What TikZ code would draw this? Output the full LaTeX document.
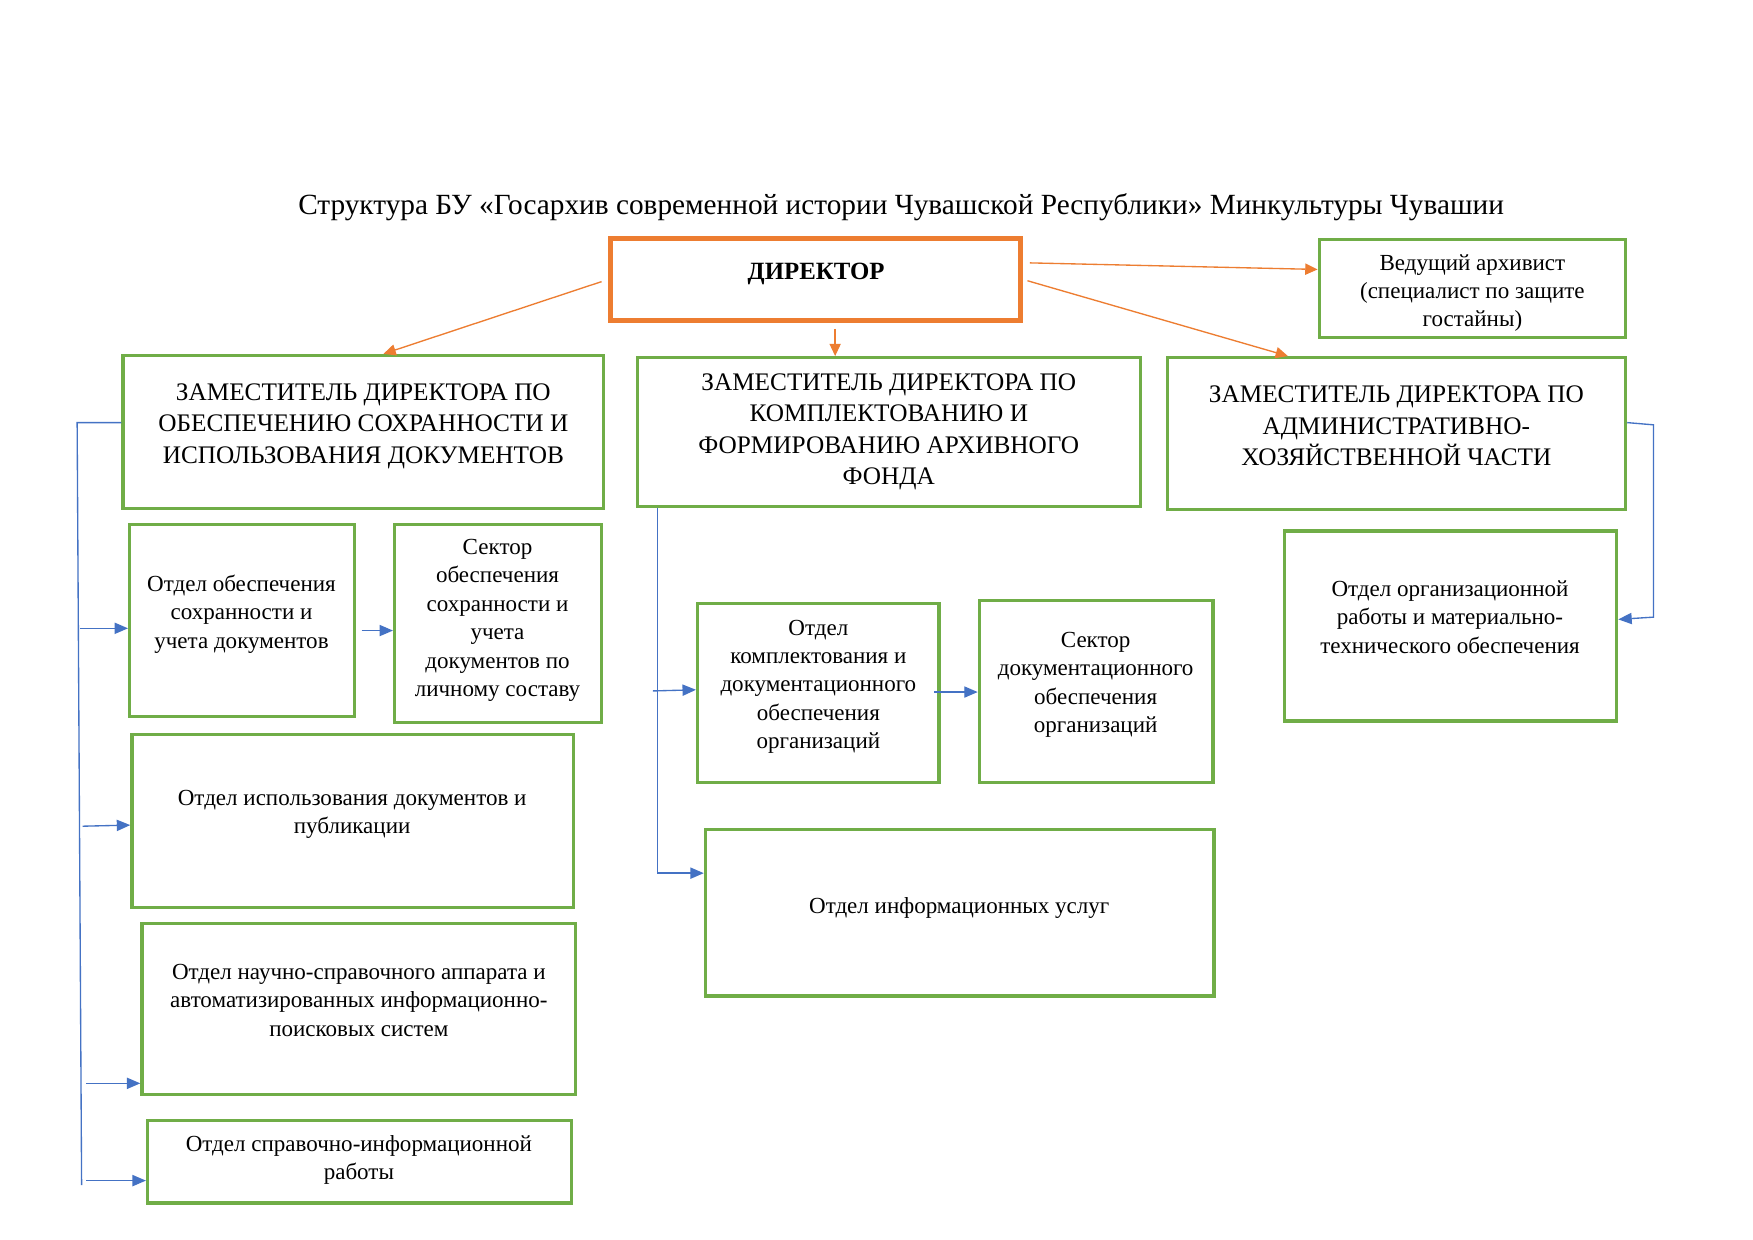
\documentclass[tikz,border=0pt]{standalone}
\usepackage{fontspec}
\setmainfont{Liberation Serif}
\usetikzlibrary{arrows.meta,fit}
\definecolor{gr}{HTML}{70AD47}
\definecolor{orx}{HTML}{ED7D31}
\definecolor{bl}{HTML}{4472C4}
\begin{document}
\begin{tikzpicture}[x=0.5pt,y=-0.5pt,
 gbox/.style={draw=gr,line width=1.5pt,inner sep=0pt},
 obox/.style={draw=orx,line width=2.2pt,inner sep=0pt},
 body/.style={font=\fontsize{10.3pt}{12.7pt}\selectfont,align=center,inner sep=0pt,anchor=north},
 capt/.style={font=\fontsize{11.3pt}{14pt}\selectfont,align=center,inner sep=0pt,anchor=north},
 oarr/.style={draw=orx,line width=0.6pt,-{Triangle[length=5.5pt,width=5pt]}},
 barr/.style={draw=bl,line width=0.6pt,-{Triangle[length=6pt,width=5pt]}},
 bline/.style={draw=bl,line width=0.6pt}]
\useasboundingbox (0,0) rectangle (1568,1109);
\fill[white] (0,0) rectangle (1568,1109);

% title
\node[capt,anchor=center,font=\fontsize{13.1pt}{15pt}\selectfont] (title) at (806,185) {Структура БУ «Госархив современной истории Чувашской Республики» Минкультуры Чувашии};

% boxes
\node[obox,fit={(546,213) (913,287)}] (dir) {};
\node[gbox,fit={(1180,214) (1454,302)}] (arch) {};
\node[gbox,fit={(110,318) (540,455)}] (d1) {};
\node[gbox,fit={(570,320) (1020,453)}] (d2) {};
\node[gbox,fit={(1044,320) (1454,456)}] (d3) {};
\node[gbox,fit={(116,469) (317,641)}] (obs) {};
\node[gbox,fit={(353,469) (538,646)}] (sec) {};
\node[gbox,fit={(118,657) (513,812)}] (isp) {};
\node[gbox,fit={(127,826) (515,979)}] (nsa) {};
\node[gbox,fit={(132,1002) (511,1076)}] (sio) {};
\node[gbox,fit={(624,540) (840,700)}] (kom) {};
\node[gbox,fit={(876,537) (1085,700)}] (sdo) {};
\node[gbox,fit={(631,742) (1086,891)}] (ius) {};
\node[gbox,fit={(1149,475) (1446,645)}] (org) {};

% texts
\node[capt,anchor=center,font=\fontsize{11.1pt}{14pt}\selectfont\bfseries] (dirt) at (730,245) {ДИРЕКТОР};
\node[body] (archt) at (1317,227) {Ведущий архивист\\(специалист по защите\\гостайны)};
\node[capt] (d1t) at (325,343) {ЗАМЕСТИТЕЛЬ ДИРЕКТОРА ПО\\ОБЕСПЕЧЕНИЮ СОХРАННОСТИ И\\ИСПОЛЬЗОВАНИЯ ДОКУМЕНТОВ};
\node[capt] (d2t) at (795,334) {ЗАМЕСТИТЕЛЬ ДИРЕКТОРА ПО\\КОМПЛЕКТОВАНИЮ И\\ФОРМИРОВАНИЮ АРХИВНОГО\\ФОНДА};
\node[capt] (d3t) at (1249,345) {ЗАМЕСТИТЕЛЬ ДИРЕКТОРА ПО\\АДМИНИСТРАТИВНО-\\ХОЗЯЙСТВЕННОЙ ЧАСТИ};
\node[body] (obst) at (216,514) {Отдел обеспечения\\сохранности и\\учета документов};
\node[body] (sect) at (445,482) {Сектор\\обеспечения\\сохранности и\\учета\\документов по\\личному составу};
\node[body] (ispt) at (315,706) {Отдел использования документов и\\публикации};
\node[body] (nsat) at (321,862) {Отдел научно-справочного аппарата и\\автоматизированных информационно-\\поисковых систем};
\node[body] (siot) at (321,1015) {Отдел справочно-информационной\\работы};
\node[body] (komt) at (732,554) {Отдел\\комплектования и\\документационного\\обеспечения\\организаций};
\node[body] (sdot) at (980,565) {Сектор\\документационного\\обеспечения\\организаций};
\node[body] (iust) at (858,802) {Отдел информационных услуг};
\node[body] (orgt) at (1297,519) {Отдел организационной\\работы и материально-\\технического обеспечения};

% orange connectors
\draw[oarr,shorten <=3pt] (dir.west) -- (343,0 |- d1.north);
\draw[oarr,shorten <=2.5pt] (747,0 |- dir.south) -- (747,0 |- d2.north);
\draw[oarr,shorten <=3pt] (dir.east |- 0,235) -- (arch.west |- 0,241);
\draw[oarr,shorten <=2pt] (dir.east) -- (1152,0 |- d3.north);

% blue: left branch
\coordinate (lt) at (69,378);
\coordinate (lb) at (73,1060);
\draw[bline] (d1.west |- lt) -- (lt) -- (lb);
\coordinate (a1) at (72,562);
\coordinate (a2) at (74,739);
\coordinate (a3) at (77,969);
\coordinate (a4) at (77,1056);
\draw[barr] (a1) -- (obs.west |- a1);
\draw[barr] (a2) -- (isp.west |- 0,738);
\draw[barr] (a3) -- (nsa.west |- a3);
\draw[barr] (a4) -- (sio.west |- a4);
\draw[barr,shorten <=2.5pt] (obs.east |- 0,564) -- (sec.west |- 0,564);

% blue: middle branch
\coordinate (mb) at (588,781);
\draw[barr] (588,0 |- d2.south) -- (mb) -- (ius.west |- mb);
\coordinate (m1) at (584,618);
\draw[barr] (m1) -- (kom.west |- 0,617);
\draw[barr,shorten <=-3pt] (kom.east |- 0,619) -- (sdo.west |- 0,619);

% blue: right branch
\coordinate (rt) at (1479,380);
\coordinate (rb) at (1479,552);
\draw[barr] (d3.east |- 0,378) -- (rt) -- (rb) -- (org.east |- 0,554);
\end{tikzpicture}
\end{document}
